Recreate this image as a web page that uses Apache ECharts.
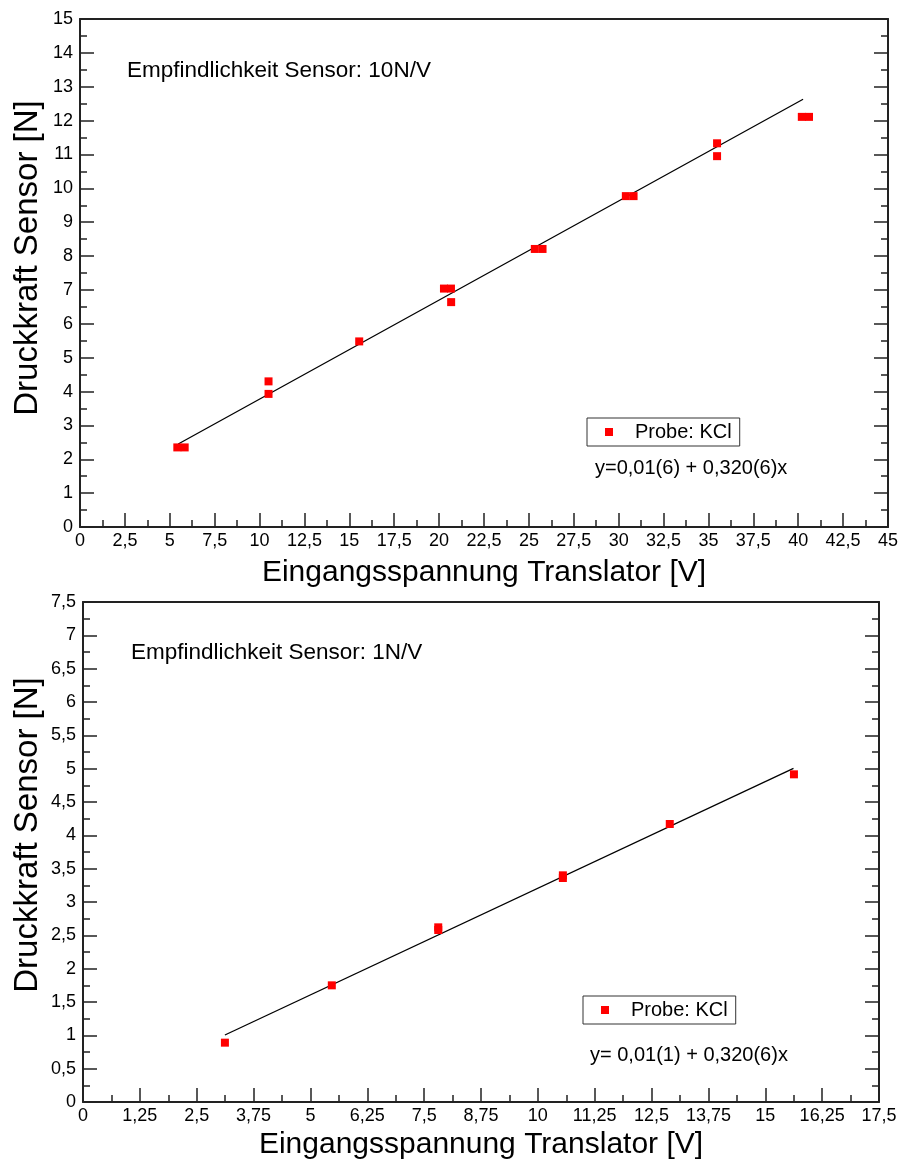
<!DOCTYPE html>
<html>
<head>
<meta charset="utf-8">
<script src="https://cdn.jsdelivr.net/npm/echarts@6/dist/echarts.min.js"></script>
<style>
html,body{margin:0;padding:0;background:#fff;}
#chart{width:903px;height:1164px;}
</style>
</head>
<body>
<div id="chart"></div>
<script>
// ---- Data ----
var topX = [5.42, 5.83, 10.5, 10.5, 15.55, 20.27, 20.66, 20.67, 25.33, 25.76, 30.4, 30.83, 35.48, 35.48, 40.2, 40.6];
var topY = [2.35, 2.35, 4.30, 3.93, 5.48, 7.04, 7.04, 6.64, 8.21, 8.21, 9.77, 9.77, 11.33, 10.95, 12.11, 12.11];
var topFitX = [5.47, 40.27];
var topFitY = [2.45, 12.63];

var botX = [3.12, 5.47, 7.81, 7.81, 10.55, 10.55, 12.9, 15.63];
var botY = [0.89, 1.75, 2.62, 2.58, 3.40, 3.36, 4.17, 4.915];
var botFitX = [3.12, 15.62];
var botFitY = [1.005, 5.005];

var topXTicks = ['0','2,5','5','7,5','10','12,5','15','17,5','20','22,5','25','27,5','30','32,5','35','37,5','40','42,5','45'];
var topYTicks = ['0','1','2','3','4','5','6','7','8','9','10','11','12','13','14','15'];
var botXTicks = ['0','1,25','2,5','3,75','5','6,25','7,5','8,75','10','11,25','12,5','13,75','15','16,25','17,5'];
var botYTicks = ['0','0,5','1','1,5','2','2,5','3','3,5','4','4,5','5','5,5','6','6,5','7','7,5'];

var seriesName = 'Probe: KCl';
var xTitle = 'Eingangsspannung Translator [V]';
var yTitle = 'Druckkraft Sensor [N]';
var topTitle = 'Empfindlichkeit Sensor: 10N/V';
var botTitle = 'Empfindlichkeit Sensor: 1N/V';
var topEq = 'y=0,01(6) + 0,320(6)x';
var botEq = 'y= 0,01(1) + 0,320(6)x';

// ---- helpers ----
var FONT = 'Liberation Sans, Arial, sans-serif';
function zip(a, b) { return a.map(function (v, i) { return [v, b[i]]; }); }
function lookup(ticks, step) {
  return function (v) { var i = Math.round(v / step); return ticks[i] !== undefined ? ticks[i] : ''; };
}
var lineC = '#222';
function mainX(grid, max, step, ticks, gap) {
  return {
    gridIndex: grid, type: 'value', min: 0, max: max, interval: step, position: 'bottom',
    axisLine: { show: true, onZero: false, lineStyle: { color: lineC, width: 2 } },
    axisTick: { show: true, inside: true, length: 14, lineStyle: { color: lineC, width: 1.5 } },
    minorTick: { show: true, splitNumber: 2, length: 7, lineStyle: { color: lineC, width: 1.5 } },
    splitLine: { show: false },
    axisLabel: { show: true, color: '#000', fontSize: 18, fontFamily: FONT, margin: 5, formatter: lookup(ticks, step), showMinLabel: true, showMaxLabel: true },
    name: xTitle, nameLocation: 'middle', nameGap: gap,
    nameTextStyle: { color: '#000', fontSize: 30, fontFamily: FONT }
  };
}
function topXAxis(grid, max, step) {
  return {
    gridIndex: grid, type: 'value', min: 0, max: max, interval: step, position: 'top',
    axisLine: { show: true, onZero: false, lineStyle: { color: lineC, width: 2 } },
    axisTick: { show: false }, axisLabel: { show: false }, splitLine: { show: false }
  };
}
function leftY(grid, max, step, ticks) {
  return {
    gridIndex: grid, type: 'value', min: 0, max: max, interval: step, position: 'left',
    axisLine: { show: true, onZero: false, lineStyle: { color: lineC, width: 2 } },
    axisTick: { show: true, inside: true, length: 14, lineStyle: { color: lineC, width: 1.5 } },
    minorTick: { show: true, splitNumber: 2, length: 7, lineStyle: { color: lineC, width: 1.5 } },
    splitLine: { show: false },
    axisLabel: { show: true, color: '#000', fontSize: 18, fontFamily: FONT, margin: 7, formatter: lookup(ticks, step), showMinLabel: true, showMaxLabel: true }
  };
}
function rightY(grid, max, step) {
  return {
    gridIndex: grid, type: 'value', min: 0, max: max, interval: step, position: 'right',
    axisLine: { show: true, onZero: false, lineStyle: { color: lineC, width: 2 } },
    axisTick: { show: true, inside: true, length: 14, lineStyle: { color: lineC, width: 1.5 } },
    minorTick: { show: true, splitNumber: 2, length: 7, lineStyle: { color: lineC, width: 1.5 } },
    splitLine: { show: false }, axisLabel: { show: false }
  };
}
function legendAt(left, top) {
  return {
    data: [seriesName], left: left, top: top, orient: 'horizontal',
    icon: 'rect', itemWidth: 8, itemHeight: 8, itemGap: 0,
    borderColor: '#333', borderWidth: 1, borderRadius: 0,
    padding: [4, 8, 4, 18], selectedMode: false,
    itemStyle: { opacity: 1 },
    textStyle: { color: '#000', fontSize: 20, fontFamily: FONT, padding: [0, 0, 0, 17] }
  };
}
function textG(x, y, txt, size, rot) {
  return {
    type: 'text', x: x, y: y, rotation: rot || 0, silent: true,
    style: { text: txt, fill: '#000', fontSize: size, fontFamily: FONT, align: rot ? 'center' : 'left', verticalAlign: 'middle' }
  };
}

var chart = echarts.init(document.getElementById('chart'), null, { renderer: 'canvas' });
chart.setOption({
  animation: false,
  backgroundColor: '#fff',
  grid: [
    { left: 80, top: 19, width: 808, height: 508, containLabel: false },
    { left: 83, top: 602, width: 796, height: 500, containLabel: false }
  ],
  xAxis: [
    mainX(0, 45, 2.5, topXTicks, 31),
    topXAxis(0, 45, 2.5),
    mainX(1, 17.5, 1.25, botXTicks, 28),
    topXAxis(1, 17.5, 1.25)
  ],
  yAxis: [
    leftY(0, 15, 1, topYTicks),
    rightY(0, 15, 1),
    leftY(1, 7.5, 0.5, botYTicks),
    rightY(1, 7.5, 0.5)
  ],
  legend: [legendAt(587, 418), legendAt(583, 996)],
  series: [
    { name: seriesName, type: 'scatter', xAxisIndex: 0, yAxisIndex: 0, symbol: 'rect', symbolSize: 8,
      itemStyle: { color: '#ff0000', opacity: 1 }, data: zip(topX, topY), z: 3 },
    { name: 'fit10', type: 'line', xAxisIndex: 0, yAxisIndex: 0, showSymbol: false, symbol: 'none',
      lineStyle: { color: '#000', width: 1.3 }, data: zip(topFitX, topFitY), z: 2 },
    { name: seriesName, type: 'scatter', xAxisIndex: 2, yAxisIndex: 2, symbol: 'rect', symbolSize: 8,
      itemStyle: { color: '#ff0000', opacity: 1 }, data: zip(botX, botY), z: 3 },
    { name: 'fit1', type: 'line', xAxisIndex: 2, yAxisIndex: 2, showSymbol: false, symbol: 'none',
      lineStyle: { color: '#000', width: 1.3 }, data: zip(botFitX, botFitY), z: 2 }
  ],
  graphic: [
    textG(127, 71, topTitle, 22.5),
    textG(131, 653, botTitle, 22.5),
    textG(595, 468, topEq, 20),
    textG(590, 1055, botEq, 20),
    textG(28, 258, yTitle, 33, Math.PI / 2),
    textG(28, 835, yTitle, 33, Math.PI / 2)
  ]
});
</script>
</body>
</html>
